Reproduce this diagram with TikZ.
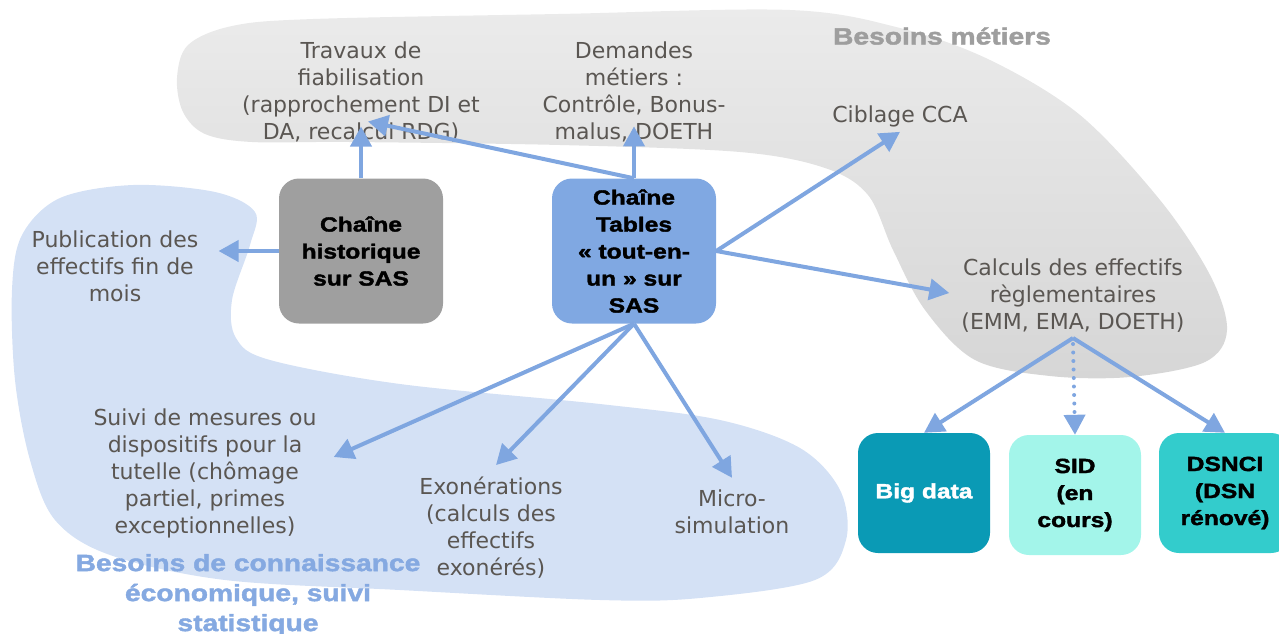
\documentclass[tikz,border=0pt]{standalone}
\usepackage{fontspec}
\setmainfont{DejaVu Sans}
\newfontfamily\heavyfont[FakeStretch=1.2, BoldFeatures={FakeBold=1.8}]{Liberation Sans}
\usetikzlibrary{arrows.meta}
\definecolor{arrowblue}{HTML}{7FA6E0}
\definecolor{zoneblue}{HTML}{D4E1F5}
\definecolor{zonegraytop}{HTML}{EBEBEB}
\definecolor{zonegraybot}{HTML}{D6D6D6}
\definecolor{textgray}{HTML}{5A5652}
\definecolor{histgray}{HTML}{9F9F9F}
\definecolor{tablesblue}{HTML}{80A8E2}
\definecolor{bigteal}{HTML}{0A9AB5}
\definecolor{sidmint}{HTML}{A3F5EA}
\definecolor{dsncyan}{HTML}{33CCCC}
\definecolor{labelgray}{HTML}{9E9E9E}
\definecolor{labelblue}{HTML}{85A9E1}
\tikzstyle{need} = [align=center, inner sep=0pt, text=textgray, font=\fontsize{22}{27}\selectfont]
\tikzstyle{chain} = [rectangle, rounded corners=20pt, minimum width=164pt, minimum height=145pt, align=center, inner sep=0pt, font=\heavyfont\bfseries\fontsize{20.5}{27}\selectfont]
\tikzstyle{tool} = [chain, minimum width=132pt, minimum height=120pt]
\tikzstyle{zone} = [align=center, inner sep=0pt, font=\heavyfont\bfseries\fontsize{23.5}{30}\selectfont]
\tikzstyle{arrow} = [line width=4pt, draw=arrowblue, -{Triangle[length=20pt,width=21pt]}]
\tikzstyle{maybe} = [arrow, line cap=round, dash pattern=on 0pt off 8.5pt]

\begin{document}
\begin{tikzpicture}[x=1pt, y=-1pt]
	\useasboundingbox (0,0) rectangle (1279,633);

	\shade[top color=zonegraytop, bottom color=zonegraybot] plot[smooth cycle, tension=0.55] coordinates {(205,134) (183,112) (177,78) (188,45) (232,26) (313,19) (558,14) (790,10) (900,28) (990,60) (1080,115) (1160,200) (1210,275) (1227,330) (1205,362) (1130,377) (1050,376) (975,360) (925,310) (893,250) (868,195) (825,168) (740,152) (560,145) (350,142) (252,142)};
	\fill[zoneblue] plot[smooth cycle, tension=0.55] coordinates {(12,290) (22,235) (60,198) (133,185) (215,192) (255,212) (250,245) (232,300) (236,338) (270,360) (400,384) (600,404) (720,420) (800,448) (840,490) (846,540) (815,580) (700,598) (600,600) (400,590) (225,580) (110,555) (55,520) (30,460) (15,380)};

	\node (metiers) [zone, text=labelgray] at (942,36) {Besoins métiers};
	\node (connaissance) [zone, text=labelblue] at (248,595) {Besoins de connaissance\\économique, suivi\\statistique};

	\node (trav) [need] at (361,92) {Travaux de\\fiabilisation\\(rapprochement DI et\\DA, recalcul RDG)};
	\node (dem) [need] at (634,92) {Demandes\\métiers :\\Contrôle, Bonus-\\malus, DOETH};
	\node (cib) [need] at (900,116) {Ciblage CCA};
	\node (calc) [need] at (1073,296) {Calculs des effectifs\\règlementaires\\(EMM, EMA, DOETH)};
	\node (pub) [need] at (115,266) {Publication des\\effectifs fin de\\mois};
	\node (suivi) [need] at (205,473) {Suivi de mesures ou\\dispositifs pour la\\tutelle (chômage\\partiel, primes\\exceptionnelles)};
	\node (exo) [need] at (491,528) {Exonérations\\(calculs des\\effectifs\\exonérés)};
	\node (micro) [need] at (732,512) {Micro-\\simulation};

	\node (hist) [chain, fill=histgray] at (361,251) {Chaîne\\historique\\sur SAS};
	\node (tables) [chain, fill=tablesblue] at (634,251) {Chaîne\\Tables\\« tout-en-\\un » sur\\SAS};
	\node (big) [tool, fill=bigteal, text=white] at (924,493) {Big data};
	\node (sid) [tool, fill=sidmint] at (1075,495) {SID\\(en\\cours)};
	\node (dsnci) [tool, fill=dsncyan] at (1225,493) {DSNCI\\(DSN\\rénové)};

	\draw [arrow] (hist.north) -- ([yshift=16pt]trav.south);
	\draw [arrow] (tables.north) -- ([xshift=7pt,yshift=21pt]trav.south);
	\draw [arrow] (tables.north) -- ([yshift=16pt]dem.south);
	\draw [arrow] (tables.east) -- ([yshift=-5pt]cib.south);
	\draw [arrow] (tables.east) -- ([xshift=-12pt,yshift=3pt]calc.west);
	\draw [arrow, shorten >=20pt] (hist.west) -- (hist.west -| pub.east);
	\draw [arrow] (tables.south) -- ([xshift=17pt,yshift=16pt]suivi.east);
	\draw [arrow] (tables.south) -- ([xshift=5pt,yshift=12pt]exo.north);
	\draw [arrow] (tables.south) -- ([yshift=12pt]micro.north);
	\draw [arrow] ([yshift=-5pt]calc.south) -- (big.north);
	\draw [maybe] ([yshift=-11pt]calc.south) -- (sid.north);
	\draw [arrow] ([yshift=-5pt]calc.south) -- (dsnci.north);

\end{tikzpicture}
\end{document}
